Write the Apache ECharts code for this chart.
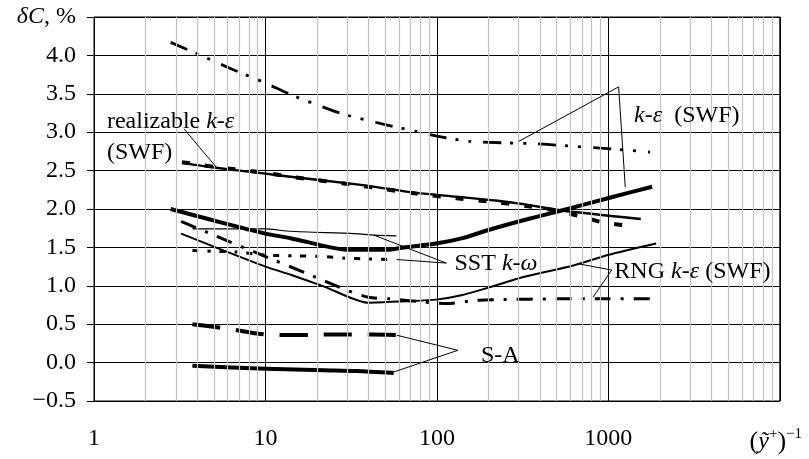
<!DOCTYPE html>
<html><head><meta charset="utf-8">
<script src="https://cdn.jsdelivr.net/npm/echarts@6/dist/echarts.min.js"></script>
<style>html,body{margin:0;padding:0;background:#fff}#c{width:809px;height:459px}</style>
</head><body><div id="c"></div>
<script>
// ---- data ----
const yTicks = [-0.5, 0, 0.5, 1, 1.5, 2, 2.5, 3, 3.5, 4, 4.5];
const xTicks = [1, 10, 100, 1000, 10000];

// k-eps (SWF), dash-dot-dot
const keSWF_x = [2.8, 4.1, 6.1, 10, 14, 24, 30, 52, 76, 100, 155, 263, 375, 510, 1080, 1750];
const keSWF_y = [4.17, 4.01, 3.84, 3.64, 3.49, 3.29, 3.22, 3.09, 3.01, 2.95, 2.88, 2.86, 2.85, 2.83, 2.78, 2.74];
// k-eps (SWF), thick solid
const keThick_x = [2.8, 5, 10, 14, 24, 30, 53, 64, 99, 141, 202, 328, 534, 993, 1800];
const keThick_y = [2.0, 1.85, 1.68, 1.62, 1.50, 1.47, 1.47, 1.50, 1.55, 1.62, 1.73, 1.86, 1.98, 2.14, 2.29];
// realizable k-eps (SWF), solid
const realSolid_x = [3.26, 5, 10, 14, 34, 76, 130, 220, 328, 534, 1545];
const realSolid_y = [2.60, 2.54, 2.46, 2.42, 2.32, 2.21, 2.16, 2.11, 2.06, 1.98, 1.87];
// realizable k-eps (SWF), dashed
const realDash_x = [3.26, 5, 10, 14, 34, 76, 130, 220, 330, 500, 750, 950, 1380];
const realDash_y = [2.61, 2.55, 2.47, 2.42, 2.31, 2.20, 2.14, 2.09, 2.04, 1.98, 1.88, 1.82, 1.78];
// SST k-omega, thin solid
const sstThin_x = [3.75, 10, 14, 33, 43, 58];
const sstThin_y = [1.74, 1.74, 1.71, 1.68, 1.66, 1.65];
// SST k-omega, dotted
const sstDot_x = [3.75, 4.9, 6.8, 10, 15, 22, 29, 39, 58];
const sstDot_y = [1.46, 1.45, 1.44, 1.40, 1.39, 1.38, 1.36, 1.35, 1.34];
// RNG k-eps (SWF), solid
const rngSolid_x = [3.22, 5, 10, 14.2, 22, 40, 66, 99, 141, 202, 328, 616, 993, 1900];
const rngSolid_y = [1.68, 1.51, 1.25, 1.14, 0.99, 0.78, 0.80, 0.82, 0.88, 0.98, 1.12, 1.26, 1.40, 1.55];
// RNG k-eps (SWF), dash-dot
const rngDash_x = [3.22, 5, 10.8, 17, 30, 40, 53, 83, 114, 170, 241, 500, 1000, 1900];
const rngDash_y = [1.84, 1.66, 1.35, 1.17, 0.94, 0.85, 0.83, 0.79, 0.77, 0.81, 0.82, 0.83, 0.83, 0.83];
// S-A, long dashes
const saDash_x = [3.75, 5.2, 6.5, 8.9, 11, 18, 22, 41, 58];
const saDash_y = [0.50, 0.46, 0.43, 0.38, 0.36, 0.36, 0.365, 0.365, 0.36];
// S-A, thick solid
const saSolid_x = [3.75, 10, 22, 34, 56];
const saSolid_y = [-0.04, -0.08, -0.10, -0.11, -0.135];

// annotation texts and their anchors (data coordinates)
const noteTexts = ['{r|realizable }{i|k}{r|-}{i|ε}', '{r|(SWF)}', '{i|k}{r|-}{i|ε}{r|  (SWF)}', '{r|SST }{i|k}{r|-}{i|ω}', '{r|RNG }{i|k}{r|-}{i|ε}{r| (SWF)}', '{r|S-A}'];
const noteX = [1.19, 1.19, 1413, 126.7, 1084, 180.5];
const noteY = [3.14, 2.73, 3.21, 1.29, 1.18, 0.095];
// leader lines [x1, y1, x2, y2]
const leaders = [
  [3.36, 3.04, 5.23, 2.53],
  [1148, 3.59, 300, 2.88], [1148, 3.59, 1255, 2.285],
  [113.4, 1.296, 58.4, 1.342], [113.4, 1.296, 42.9, 1.66],
  [1046, 1.205, 681, 1.283], [1046, 1.205, 813, 0.85],
  [132.5, 0.16, 58.4, 0.356], [132.5, 0.16, 55.9, -0.123]
];

// ---- chart ----
const FONT = 'Liberation Serif';
const FS = 24;
const zip = (xs, ys) => xs.map((x, i) => [x, ys[i]]);
const minorX = [];
for (let d = 1; d < 10000; d *= 10) for (let k = 2; k <= 9; k++) minorX.push(k * d);

const rich = {
  r: {fontFamily: FONT, fontSize: FS, color: '#000'},
  i: {fontFamily: FONT, fontSize: FS, fontStyle: 'italic', color: '#000'},
  p: {fontFamily: FONT, fontSize: FS + 2, color: '#000', lineHeight: 30},
  s: {fontFamily: FONT, fontSize: 15, color: '#000', verticalAlign: 'top', lineHeight: 30},
  pad: {width: 8}
};

function line(name, xs, ys, width, type, z) {
  return {
    name, type: 'line', data: zip(xs, ys), showSymbol: false, symbol: 'none',
    smooth: 0.25, z: z || 3, silent: true,
    lineStyle: {color: '#000', width, type, cap: 'butt', join: 'round'}
  };
}

const chart = echarts.init(document.getElementById('c'), null, {renderer: 'canvas'});
chart.setOption({
  animation: false,
  backgroundColor: '#fff',
  grid: {left: 94, right: 22, top: 17, bottom: 58, show: true, borderColor: '#000', borderWidth: 1},
  xAxis: {
    type: 'log', logBase: 10, min: xTicks[0], max: xTicks[xTicks.length - 1],
    axisLine: {show: true, lineStyle: {color: '#000', width: 1}},
    axisTick: {show: true, inside: false, length: 7, lineStyle: {color: '#000', width: 1}},
    minorTick: {show: false},
    splitLine: {show: true, lineStyle: {color: '#000', width: 1}},
    axisLabel: {
      margin: 26, color: '#000', fontFamily: FONT, fontSize: FS,
      formatter: v => (Math.abs(v - 10000) < 1 ? '{p|(}{i|ỹ}{s|+}{p|)}{s|−1}{pad|}' : String(Math.round(v))),
      rich
    }
  },
  yAxis: {
    type: 'value', min: yTicks[0], max: yTicks[yTicks.length - 1], interval: 0.5,
    axisLine: {show: true, lineStyle: {color: '#000', width: 1}},
    axisTick: {show: true, inside: false, length: 7, lineStyle: {color: '#000', width: 1}},
    splitLine: {show: true, lineStyle: {color: '#000', width: 1}},
    axisLabel: {
      margin: 18, color: '#000', fontFamily: FONT, fontSize: FS,
      formatter: v => (v > 4.4 ? '{i|δC}{r|, %}' : (v < 0 ? '\u2212' + Math.abs(v).toFixed(1) : v.toFixed(1))),
      rich
    }
  },
  series: [
    {
      type: 'line', data: [[1, -0.5]], symbol: 'none', lineStyle: {opacity: 0}, z: 1, silent: true,
      markLine: {
        silent: true, symbol: ['none', 'none'], label: {show: false}, animation: false,
        lineStyle: {color: '#c4c4c4', width: 1.2, type: 'solid'},
        data: minorX.map(v => ({xAxis: v}))
      }
    },
    line('k-ε SWF dash', keSWF_x, keSWF_y, 2.8, [18, 9, 3, 10, 3, 12]),
    line('k-ε SWF thick', keThick_x, keThick_y, 4),
    line('realizable solid', realSolid_x, realSolid_y, 2.4),
    line('realizable dash', realDash_x, realDash_y, 4, [8, 15]),
    line('SST thin', sstThin_x, sstThin_y, 1.2),
    line('SST dot', sstDot_x, sstDot_y, 3, [6, 9, 3, 9]),
    line('RNG solid', rngSolid_x, rngSolid_y, 2),
    line('RNG dash', rngDash_x, rngDash_y, 3, [16, 10, 3, 10]),
    line('S-A dash', saDash_x, saDash_y, 4, [28, 16]),
    line('S-A solid', saSolid_x, saSolid_y, 4),
    {
      type: 'line', data: [[1, -0.5]], symbol: 'none', lineStyle: {opacity: 0}, z: 5, silent: true,
      markLine: {
        silent: true, symbol: ['none', 'none'], label: {show: false}, animation: false,
        lineStyle: {color: '#000', width: 1, type: 'solid'},
        data: leaders.map(s => [{coord: [s[0], s[1]]}, {coord: [s[2], s[3]]}])
      },
      markPoint: {
        silent: true, symbol: 'circle', symbolSize: 0, animation: false,
        label: {show: true, position: 'right', distance: 0, color: '#000', fontFamily: FONT, fontSize: FS, rich},
        data: noteTexts.map((t, i) => ({coord: [noteX[i], noteY[i]], label: {formatter: t}}))
      }
    }
  ]
});
</script></body></html>
